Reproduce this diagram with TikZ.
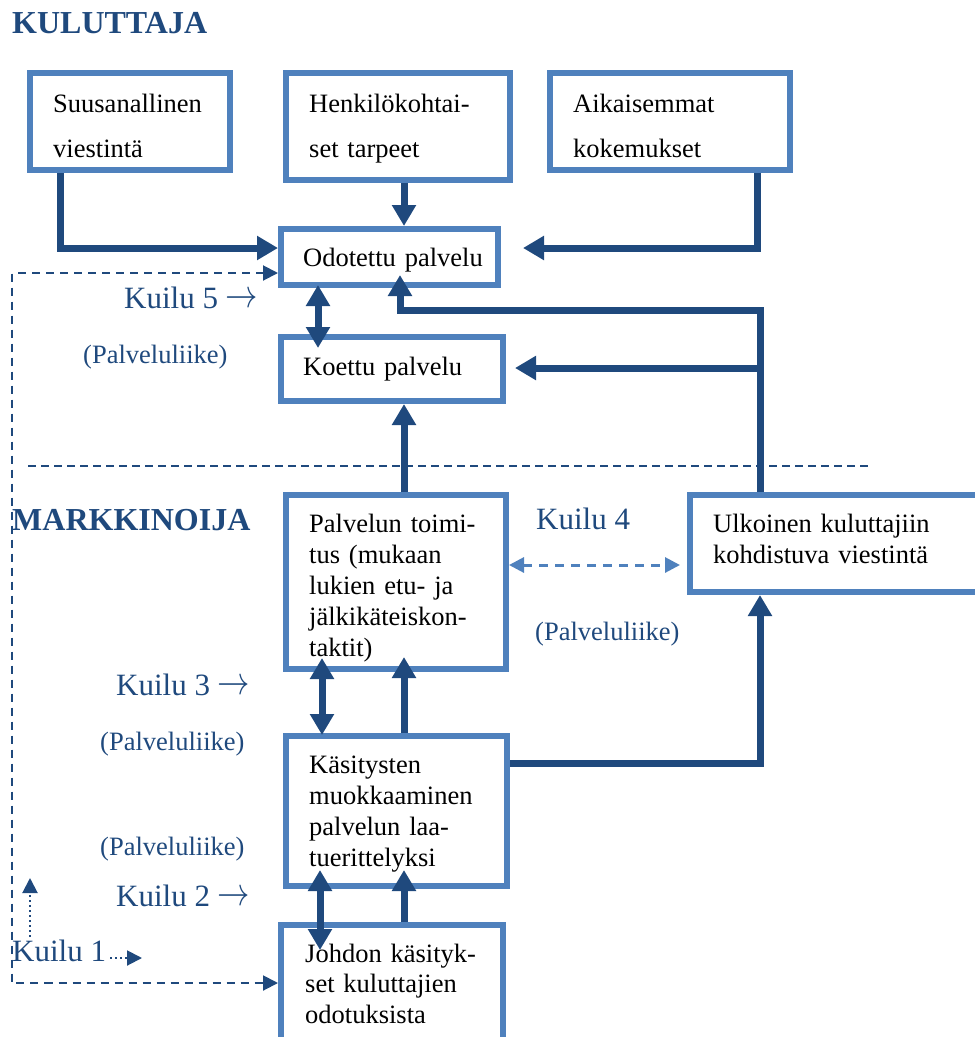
\documentclass[tikz,border=0pt]{standalone}
\usepackage{fontspec}
\usepackage{graphicx}
\setmainfont{Liberation Serif}
\usetikzlibrary{arrows.meta}

\definecolor{framelight}{HTML}{4F81BD}
\definecolor{flowdark}{HTML}{1F497D}

% larger open arrow used after the gap labels
\newcommand{\gaparrow}{\raisebox{0.02em}{\scalebox{1.3}[1.6]{$\rightarrow$}}}

\tikzset{
  box/.style={draw=framelight, line width=6pt, fill=white, rectangle, inner sep=0pt},
  boxtext/.style={anchor=base west, inner sep=0pt, text width=270pt, align=left,
    font=\fontsize{26.5}{31}\selectfont},
  widetext/.style={boxtext, font=\fontsize{26.5}{45}\selectfont},
  title/.style={anchor=base west, inner sep=0pt, text=flowdark,
    font=\fontsize{32}{32}\selectfont\bfseries},
  gaplabel/.style={anchor=base west, inner sep=0pt, text=flowdark,
    font=\fontsize{31}{31}\selectfont},
  likelabel/.style={anchor=base west, inner sep=0pt, text=flowdark,
    font=\fontsize{26.5}{31}\selectfont},
  bighead/.tip={Triangle[length=21pt,width=23pt]},
  smallhead/.tip={Triangle[length=15pt,width=15pt]},
  flow/.style={draw=flowdark, line width=7pt, line join=miter, -bighead},
  flowboth/.style={draw=flowdark, line width=7pt, bighead-bighead},
  loopline/.style={draw=flowdark, line width=2pt, dash pattern=on 8pt off 6pt,
    smallhead-smallhead},
  gapfour/.style={draw=framelight, line width=3pt, dash pattern=on 9pt off 7pt,
    smallhead-smallhead},
  dotflow/.style={draw=flowdark, line width=2pt, dash pattern=on 2pt off 3pt, -smallhead},
  sepline/.style={draw=flowdark, line width=1.5pt, dash pattern=on 8pt off 5pt},
}

\begin{document}
\begin{tikzpicture}[x=1pt, y=-1pt]
\useasboundingbox (0,0) rectangle (975,1037);
\clip (0,0) rectangle (975,1037);

% boxes
\node[box, minimum width=200pt, minimum height=97pt]  (suus) at (130,121.5) {};
\node[box, minimum width=224pt, minimum height=107pt] (henk) at (398,126.5) {};
\node[box, minimum width=240pt, minimum height=97pt]  (aik)  at (670,121.5) {};
\node[box, minimum width=217pt, minimum height=56pt]  (odot) at (389.5,257) {};
\node[box, minimum width=222pt, minimum height=64pt]  (koet) at (392,369) {};
\node[box, minimum width=220pt, minimum height=174pt] (toim) at (396,582) {};
\node[box, minimum width=297pt, minimum height=97pt]  (ulk)  at (838.5,543.5) {};
\node[box, minimum width=221pt, minimum height=150pt] (kas)  at (396.5,811) {};
\node[box, minimum width=222pt, minimum height=122pt] (joh)  at (392,986) {};

% helper points
\coordinate (xA) at (318,0);
\coordinate (xB) at (404,0);
\coordinate (xC) at (322,0);
\coordinate (xD) at (320,0);
\coordinate (cA) at (60,248);
\coordinate (cB) at (757,248);
\coordinate (cC) at (760,310);
\coordinate (cD) at (400,310);
\coordinate (cE) at (760,368);
\coordinate (cF) at (760,763);
\coordinate (k4) at (0,565);
\coordinate (dl) at (12,983);
\coordinate (odotIn) at ([yshift=13pt]odot.south);
\coordinate (odotR) at ([xshift=22pt]odot.east);
\coordinate (odotL) at ([yshift=-16pt]odot.west);
\coordinate (koetR) at ([xshift=9pt]koet.east);
\coordinate (ulkL) at ([xshift=-7pt]ulk.west);
\coordinate (sepL) at (28,466);
\coordinate (sepR) at (868,466);
\coordinate (dvA) at (30,937);
\coordinate (dvB) at (30,878);
\coordinate (dhA) at (110,958);
\coordinate (dhB) at (142,958);

% separator between consumer and marketer
\draw[sepline] (sepL) -- (sepR);

% connectors
\draw[flow] (suus.south -| cA) -- (cA) -- (odot.west |- cA);
\draw[flow] (henk.south -| xB) -- (odot.north -| xB);
\draw[flow] (aik.south -| cB) -- (cB) -- (odotR |- cB);
\draw[flowboth, shorten <=-3pt, shorten >=-14pt] (odot.south -| xA) -- (koet.north -| xA);
\draw[flow] (ulk.north -| cC) -- (cC) -- (cD) -- (odotIn -| cD);
\draw[flow] (cE) -- (koetR |- cE);
\draw[flow] (toim.north -| xB) -- (koet.south -| xB);
\draw[gapfour] (toim.east |- k4) -- (ulkL |- k4);
\draw[flowboth, shorten <=-14pt, shorten >=-2pt] (toim.south -| xC) -- (kas.north -| xC);
\draw[flow, shorten >=-15pt] (kas.north -| xB) -- (toim.south -| xB);
\draw[flow] (kas.east |- cF) -- (cF) -- (ulk.south -| cF);
\draw[flowboth, shorten <=-19pt, shorten >=-28pt] (kas.south -| xD) -- (joh.north -| xD);
\draw[flow, shorten >=-19pt] (joh.north -| xB) -- (kas.south -| xB);
\draw[loopline] (odotL) -| (dl) -- (joh.west |- dl);
\draw[dotflow] (dvA) -- (dvB);
\draw[dotflow] (dhA) -- (dhB);

% headings
\node[title] (tkul) at (12,33) {KULUTTAJA};
\node[title] (tmark) at (12,530) {MARKKINOIJA};

% box texts
\node[widetext] (suusT) at (53,112) {Suusanallinen\\viestintä};
\node[widetext] (henkT) at (309,112) {Henkilökohtai-\\set tarpeet};
\node[widetext] (aikT)  at (573,112) {Aikaisemmat\\kokemukset};
\node[boxtext]  (odotT) at (303,266) {Odotettu palvelu};
\node[boxtext]  (koetT) at (303,375) {Koettu palvelu};
\node[boxtext]  (toimT) at (309,532) {Palvelun toimi-\\tus (mukaan\\lukien etu- ja\\jälkikäteiskon-\\taktit)};
\node[boxtext]  (ulkT)  at (713,532) {Ulkoinen kuluttajiin\\kohdistuva viestintä};
\node[boxtext]  (kasT)  at (309,773) {Käsitysten\\muokkaaminen\\palvelun laa-\\tuerittelyksi};
\node[boxtext, font=\fontsize{26.5}{30.5}\selectfont] (johT) at (305,962) {Johdon käsityk-\\set kuluttajien\\odotuksista};

% gap labels
\node[gaplabel] (g5) at (124,308) {Kuilu 5 \gaparrow};
\node[likelabel] (l5) at (83,363) {(Palveluliike)};
\node[gaplabel] (g4) at (536,529) {Kuilu 4};
\node[likelabel] (l4) at (535,640) {(Palveluliike)};
\node[gaplabel] (g3) at (116,695) {Kuilu 3 \gaparrow};
\node[likelabel] (l3) at (100,750) {(Palveluliike)};
\node[likelabel] (l2) at (100,855) {(Palveluliike)};
\node[gaplabel] (g2) at (116,906) {Kuilu 2 \gaparrow};
\node[gaplabel] (g1) at (12,961) {Kuilu 1};
\end{tikzpicture}
\end{document}
